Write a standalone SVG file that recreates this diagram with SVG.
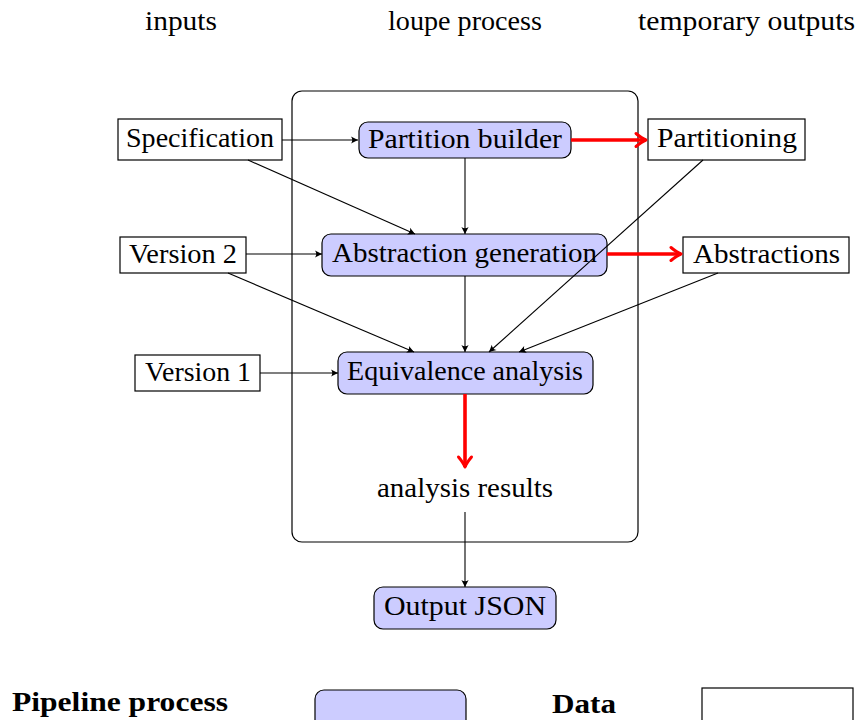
<svg xmlns="http://www.w3.org/2000/svg" width="858" height="720" viewBox="0 0 858 720">
  <defs>
    <marker id="tip" markerUnits="userSpaceOnUse" markerWidth="12" markerHeight="10" viewBox="-8 -5 10 10" refX="0" refY="0" orient="auto" overflow="visible">
      <path d="M0,0 L-7,-3.6 Q-4.5,0 -7,3.6 Z" fill="#000"/>
    </marker>
    <marker id="tipRed" markerUnits="userSpaceOnUse" markerWidth="16" markerHeight="16" viewBox="-12 -8 14 16" refX="0" refY="0" orient="auto" overflow="visible">
      <path d="M-10,-6.5 Q-4,-1.5 0,0 Q-4,1.5 -10,6.5" fill="none" stroke="#ff0000" stroke-width="3" stroke-linecap="round" stroke-linejoin="round"/>
    </marker>
  </defs>
  <style>
    text { font-family: "Liberation Serif", "DejaVu Serif", serif; font-size: 28px; fill: #000; text-anchor: middle; }
    .bold { font-weight: bold; text-anchor: start; }
    .data { fill: #fff; stroke: #000; stroke-width: 1.2; }
    .proc { fill: #ccccff; stroke: #000; stroke-width: 1.2; }
    .frame { fill: none; stroke: #000; stroke-width: 1.2; }
    .link { fill: none; stroke: #000; stroke-width: 1.1; marker-end: url(#tip); }
    .flow { fill: none; stroke: #ff0000; stroke-width: 3.6; marker-end: url(#tipRed); }
  </style>

  <!-- column headings -->
  <text x="181" y="30" textLength="72" lengthAdjust="spacingAndGlyphs">inputs</text>
  <text x="465" y="30" textLength="154" lengthAdjust="spacingAndGlyphs">loupe process</text>
  <text x="746.5" y="30" textLength="217" lengthAdjust="spacingAndGlyphs">temporary outputs</text>

  <!-- process container -->
  <rect id="loupe" class="frame" x="292" y="91" width="346" height="451" rx="10"/>

  <!-- inputs -->
  <g id="specification">
    <rect class="data" x="118" y="119" width="164" height="41"/>
    <text x="200" y="147" textLength="148" lengthAdjust="spacingAndGlyphs">Specification</text>
  </g>
  <g id="version2">
    <rect class="data" x="120" y="237" width="126" height="36"/>
    <text x="183" y="263" textLength="108" lengthAdjust="spacingAndGlyphs">Version 2</text>
  </g>
  <g id="version1">
    <rect class="data" x="135" y="355" width="125" height="36"/>
    <text x="198" y="381" textLength="106" lengthAdjust="spacingAndGlyphs">Version 1</text>
  </g>

  <!-- pipeline processes -->
  <g id="partition-builder">
    <rect class="proc" x="359" y="122" width="212" height="36" rx="9"/>
    <text x="465" y="148" textLength="194" lengthAdjust="spacingAndGlyphs">Partition builder</text>
  </g>
  <g id="abstraction-generation">
    <rect class="proc" x="322" y="234" width="285" height="42" rx="9"/>
    <text x="464.5" y="262" textLength="265" lengthAdjust="spacingAndGlyphs">Abstraction generation</text>
  </g>
  <g id="equivalence-analysis">
    <rect class="proc" x="338" y="352" width="255" height="42" rx="9"/>
    <text x="465" y="380" textLength="236" lengthAdjust="spacingAndGlyphs">Equivalence analysis</text>
  </g>
  <g id="analysis-results">
    <text x="465" y="497" textLength="176" lengthAdjust="spacingAndGlyphs">analysis results</text>
  </g>
  <g id="output-json">
    <rect class="proc" x="374" y="587" width="182" height="42" rx="9"/>
    <text x="465" y="615" textLength="162" lengthAdjust="spacingAndGlyphs">Output JSON</text>
  </g>

  <!-- temporary outputs -->
  <g id="partitioning">
    <rect class="data" x="648" y="119" width="157" height="41"/>
    <text x="727" y="147" textLength="140" lengthAdjust="spacingAndGlyphs">Partitioning</text>
  </g>
  <g id="abstractions">
    <rect class="data" x="683" y="237" width="166" height="36"/>
    <text x="766.5" y="263" textLength="147" lengthAdjust="spacingAndGlyphs">Abstractions</text>
  </g>

  <!-- connectors, drawn above the nodes -->
  <g id="connectors">
    <path class="link" d="M282,140 L358,140"/>
    <path class="link" d="M248,160 L415,234"/>
    <path class="link" d="M465,158 L465,234"/>
    <path class="link" d="M246,254 L322,254"/>
    <path class="link" d="M228,273 L414,352"/>
    <path class="link" d="M465,276 L465,352"/>
    <path class="link" d="M703,160 L489,352"/>
    <path class="link" d="M718,273 L519,352"/>
    <path class="link" d="M260,373 L338,373"/>
    <path class="link" d="M465,512 L465,587"/>
    <path class="flow" d="M571,140 L646,140"/>
    <path class="flow" d="M607,254 L681,254"/>
    <path class="flow" d="M465,394 L465,467"/>
  </g>

  <!-- legend -->
  <g id="legend">
    <text class="bold" x="12" y="711" textLength="216" lengthAdjust="spacingAndGlyphs">Pipeline process</text>
    <rect class="proc" x="315" y="690" width="151" height="40" rx="9"/>
    <text class="bold" x="552" y="713" textLength="64" lengthAdjust="spacingAndGlyphs">Data</text>
    <rect class="data" x="702" y="688" width="151" height="40"/>
  </g>
</svg>
